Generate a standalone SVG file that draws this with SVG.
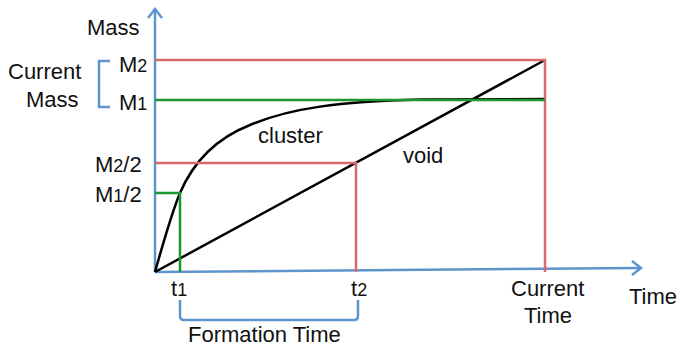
<svg xmlns="http://www.w3.org/2000/svg" width="680" height="350" viewBox="0 0 680 350">
<style>
  text { font-family: "Liberation Sans", Arial, sans-serif; font-size: 22px; fill: #111; }
  .sub { font-size: 18px; }
  .axis { stroke: #5f95cc; stroke-width: 2.5; fill: none; }
  .red { stroke: #d86a6a; stroke-width: 2.5; fill: none; }
  .green { stroke: #1a9632; stroke-width: 2.5; fill: none; }
  .curve { stroke: #000; stroke-width: 2.5; fill: none; }
  .brk { stroke: #5f95cc; stroke-width: 2.5; fill: none; }
</style>
<g id="axes">
  <path class="axis" d="M155,272 V9"/>
  <path class="axis" d="M148,18 L155,9 L162,18"/>
  <path class="axis" d="M155,272 L641,268"/>
  <path class="axis" d="M632,261 L641,268 L632,275"/>
</g>
<g id="connectors">
  <path id="void-line" class="curve" d="M155,272 L545,60"/>
  <path id="cluster-curve" class="curve" d="M155,272 C164,240 172,212 180,193 C192,165 212,140 250,125 C290,108 340,101.5 420,99.5 L545,99"/>
</g>
<g id="guides">
  <path class="red" d="M155,60 H545 V272"/>
  <path class="red" d="M155,163 H356 V272"/>
  <path class="green" d="M155,100 H545"/>
  <path class="green" d="M155,193 H180 V272"/>
</g>
<g id="labels">
  <text x="87" y="35">Mass</text>
  <text x="8" y="79">Current</text>
  <text x="26" y="107">Mass</text>
  <path class="brk" d="M110,61 H99 V107 H110"/>
  <text x="119" y="72">M<tspan class="sub">2</tspan></text>
  <text x="119" y="110">M<tspan class="sub">1</tspan></text>
  <text x="95" y="172">M<tspan class="sub">2</tspan>/2</text>
  <text x="95" y="202">M<tspan class="sub">1</tspan>/2</text>
  <text x="171" y="296">t<tspan class="sub">1</tspan></text>
  <text x="351" y="296">t<tspan class="sub">2</tspan></text>
  <path class="brk" d="M180,300 V316 Q180,320 184,320 H354 Q358,320 358,316 V300"/>
  <text x="188" y="342">Formation Time</text>
  <text x="511" y="296">Current</text>
  <text x="524" y="323">Time</text>
  <text x="629" y="304">Time</text>
  <text x="258" y="143">cluster</text>
  <text x="403" y="163">void</text>
</g>
</svg>
